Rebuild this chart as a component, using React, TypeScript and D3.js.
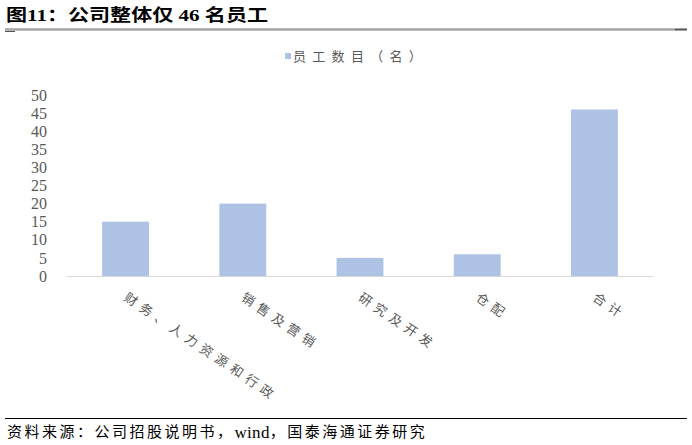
import React from "react";
import * as d3 from "d3";

// chart data
const categories = ["财务、人力资源和行政", "销售及营销", "研究及开发", "仓配", "合计"];
const staffCount = [15, 20, 5, 6, 46];
const yTicks = [0, 5, 10, 15, 20, 25, 30, 35, 40, 45, 50];
const seriesName = "员工数目（名）";
const titleText = "图11：公司整体仅 46 名员工";
const sourceParts = ["资料来源：公司招股说明书，", "wind", "，国泰海通证券研究"];

const W = 692;
const H = 445;
const barColor = "#AEC2E5";
const textGrey = "#595959";
const cjk = "'Liberation Serif', 'Noto Sans CJK SC', serif";

const App = () => {
  // plot area
  const plot = { left: 67, right: 653, top: 95, bottom: 276 };

  const xScale = d3
    .scaleBand<string>()
    .domain(categories)
    .range([plot.left, plot.right])
    .paddingInner(0.6)
    .paddingOuter(0.3);

  const yScale = d3
    .scaleLinear()
    .domain([0, 50])
    .range([plot.bottom, plot.top]);

  return (
    <svg
      width={W}
      height={H}
      style={{ position: "absolute", left: 0, top: 0, background: "#fff" }}
    >
      {/* title (the source image is stretched a bit sideways) */}
      <text
        transform="translate(6,21) scale(1.24,1)"
        fontFamily={cjk}
        fontSize={17}
        fontWeight="bold"
        fill="#000"
      >
        {titleText}
      </text>
      <line x1={5} x2={687} y1={29.5} y2={29.5} stroke="#A6A6A6" strokeWidth={2.5} />
      <line x1={5} x2={15} y1={31.5} y2={31.5} stroke="#555" strokeWidth={1} />
      <line x1={675} x2={687} y1={29.5} y2={29.5} stroke="#555" strokeWidth={1.5} />

      {/* legend */}
      <rect x={285} y={53} width={6} height={6} fill={barColor} />
      <text
        x={293}
        y={56}
        dominantBaseline="central"
        fontFamily={cjk}
        fontSize={13}
        letterSpacing={6.3}
        fill={textGrey}
      >
        {seriesName}
      </text>

      {/* y axis labels */}
      {yTicks.map((t) => (
        <text
          key={t}
          x={47}
          y={yScale(t)}
          dy="0.35em"
          textAnchor="end"
          fontFamily="'Liberation Serif', serif"
          fontSize={16}
          fill={textGrey}
        >
          {t}
        </text>
      ))}

      {/* bars */}
      {categories.map((c, i) => (
        <rect
          key={c}
          x={xScale(c)}
          y={yScale(staffCount[i])}
          width={xScale.bandwidth()}
          height={yScale(0) - yScale(staffCount[i])}
          fill={barColor}
        />
      ))}

      {/* x axis line */}
      <line
        x1={plot.left}
        x2={plot.right}
        y1={yScale(0) + 0.5}
        y2={yScale(0) + 0.5}
        stroke="#D9D9D9"
        strokeWidth={1}
      />

      {/* category labels, rotated */}
      {categories.map((c) => {
        const cx = (xScale(c) as number) + xScale.bandwidth() / 2;
        return (
          <text
            key={c}
            transform={`translate(${cx},296) rotate(34)`}
            dy="0.35em"
            fontFamily={cjk}
            fontSize={13}
            letterSpacing={5.2}
            fill={textGrey}
          >
            {c}
          </text>
        );
      })}

      {/* source */}
      <line x1={5} x2={687} y1={418.5} y2={418.5} stroke="#000" strokeWidth={1} />
      <text
        x={7}
        y={432}
        dominantBaseline="central"
        fontFamily={cjk}
        fontSize={15}
        fill="#000"
      >
        <tspan letterSpacing={2.5}>{sourceParts[0]}</tspan>
        <tspan fontSize={17} letterSpacing={0.3}>{sourceParts[1]}</tspan>
        <tspan letterSpacing={2.5}>{sourceParts[2]}</tspan>
      </text>
    </svg>
  );
};

export default App;
